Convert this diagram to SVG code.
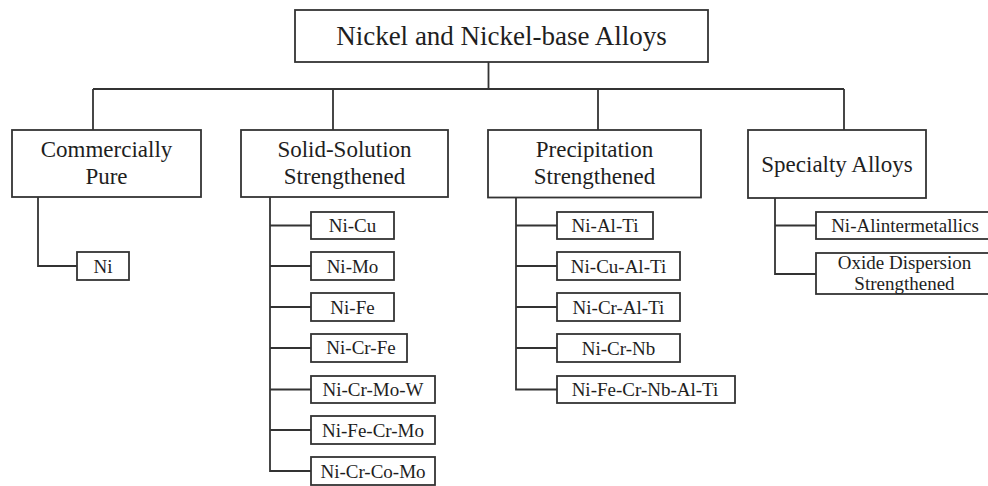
<svg xmlns="http://www.w3.org/2000/svg" width="988" height="486" viewBox="0 0 988 486">
  <style>
    .box { fill: #ffffff; stroke: #333333; stroke-width: 1.8; }
    .wire { fill: none; stroke: #333333; stroke-width: 1.8; }
    text { font-family: "Liberation Serif", "Times New Roman", serif; fill: #1e1e1e; text-anchor: middle; }
    .t0 { font-size: 27px; }
    .t1 { font-size: 23px; }
    .t2 { font-size: 19px; }
  </style>
  <rect width="988" height="486" fill="#ffffff"/>

  <!-- tree connectors -->
  <g id="connectors" class="wire">
    <path d="M488.5 62 V89 M93 89 H844 M93 89 V130 M333 89 V130 M598 89 V130 M844 89 V130"/>
    <path d="M38 197 V266 H77"/>
    <path d="M270 197 V471 H311 M270 225.5 H311 M270 266 H311 M270 307 H311 M270 348 H311 M270 389.5 H311 M270 430 H311"/>
    <path d="M516 198 V389.5 H557 M516 225.5 H557 M516 266 H557 M516 307 H557 M516 348 H557"/>
    <path d="M775 198 V274 H816 M775 225.5 H816"/>
  </g>

  <!-- root -->
  <g id="root">
    <rect class="box" x="295" y="10" width="413" height="52"/>
    <text class="t0" x="501.5" y="44.5">Nickel and Nickel-base Alloys</text>
  </g>

  <!-- main categories -->
  <g id="commercially-pure">
    <rect class="box" x="12" y="130" width="189" height="67"/>
    <text class="t1" x="106.5" y="157">Commercially</text>
    <text class="t1" x="106.5" y="184">Pure</text>
  </g>
  <g id="solid-solution">
    <rect class="box" x="241" y="130" width="207" height="67"/>
    <text class="t1" x="344.5" y="157">Solid-Solution</text>
    <text class="t1" x="344.5" y="184">Strengthened</text>
  </g>
  <g id="precipitation">
    <rect class="box" x="488" y="130" width="213" height="67.5"/>
    <text class="t1" x="594.5" y="157">Precipitation</text>
    <text class="t1" x="594.5" y="184">Strengthened</text>
  </g>
  <g id="specialty">
    <rect class="box" x="748" y="130" width="178" height="68"/>
    <text class="t1" x="837" y="172">Specialty Alloys</text>
  </g>

  <!-- commercially pure -->
  <g id="ni">
    <rect class="box" x="77" y="252" width="52" height="28"/>
    <text class="t2" x="103" y="273">Ni</text>
  </g>

  <!-- solid-solution strengthened -->
  <g id="ni-cu">
    <rect class="box" x="311" y="212" width="83" height="27"/>
    <text class="t2" x="352.5" y="232">Ni-Cu</text>
  </g>
  <g id="ni-mo">
    <rect class="box" x="311" y="252" width="83" height="28"/>
    <text class="t2" x="352.5" y="273">Ni-Mo</text>
  </g>
  <g id="ni-fe">
    <rect class="box" x="311" y="293" width="83" height="28"/>
    <text class="t2" x="352.5" y="314">Ni-Fe</text>
  </g>
  <g id="ni-cr-fe">
    <rect class="box" x="311" y="334" width="96" height="28"/>
    <text class="t2" x="361" y="354">Ni-Cr-Fe</text>
  </g>
  <g id="ni-cr-mo-w">
    <rect class="box" x="311" y="376" width="124" height="27"/>
    <text class="t2" x="373" y="396">Ni-Cr-Mo-W</text>
  </g>
  <g id="ni-fe-cr-mo">
    <rect class="box" x="311" y="416" width="124" height="28"/>
    <text class="t2" x="373" y="437">Ni-Fe-Cr-Mo</text>
  </g>
  <g id="ni-cr-co-mo">
    <rect class="box" x="311" y="457" width="124" height="28"/>
    <text class="t2" x="373" y="478">Ni-Cr-Co-Mo</text>
  </g>

  <!-- precipitation strengthened -->
  <g id="ni-al-ti">
    <rect class="box" x="557" y="212" width="96" height="27"/>
    <text class="t2" x="605" y="232">Ni-Al-Ti</text>
  </g>
  <g id="ni-cu-al-ti">
    <rect class="box" x="557" y="252" width="123" height="28"/>
    <text class="t2" x="618.5" y="273">Ni-Cu-Al-Ti</text>
  </g>
  <g id="ni-cr-al-ti">
    <rect class="box" x="557" y="293" width="123" height="28"/>
    <text class="t2" x="618.5" y="314">Ni-Cr-Al-Ti</text>
  </g>
  <g id="ni-cr-nb">
    <rect class="box" x="557" y="334" width="123" height="28"/>
    <text class="t2" x="618.5" y="355">Ni-Cr-Nb</text>
  </g>
  <g id="ni-fe-cr-nb-al-ti">
    <rect class="box" x="557" y="376" width="178" height="27"/>
    <text class="t2" x="645" y="396">Ni-Fe-Cr-Nb-Al-Ti</text>
  </g>

  <!-- specialty alloys -->
  <g id="ni-al-intermetallics">
    <rect class="box" x="816" y="212" width="180" height="27"/>
    <text class="t2" x="905" y="232">Ni-Alintermetallics</text>
  </g>
  <g id="oxide-dispersion">
    <rect class="box" x="816" y="253" width="180" height="41"/>
    <text class="t2" x="904.5" y="269">Oxide Dispersion</text>
    <text class="t2" x="904.5" y="290">Strengthened</text>
  </g>
</svg>
